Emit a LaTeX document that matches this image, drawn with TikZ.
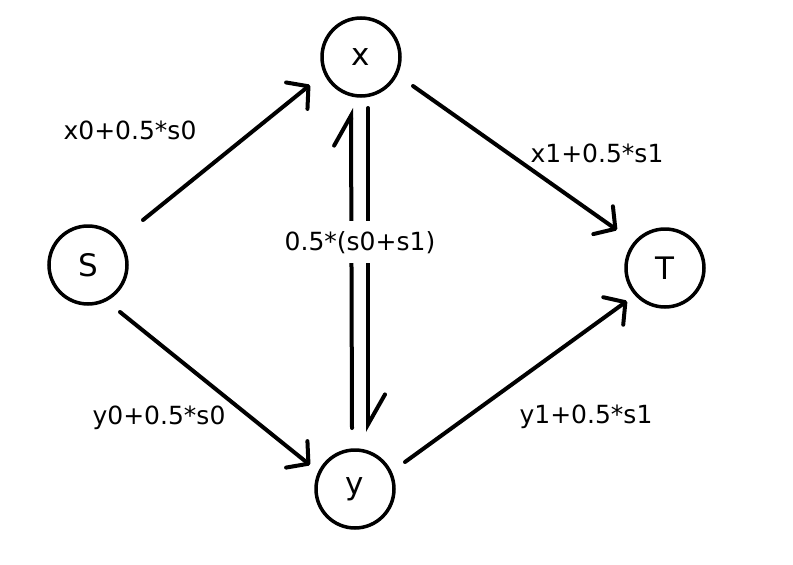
\documentclass[tikz,border=0pt]{standalone}
\usepackage{fontspec}
\setmainfont{DejaVu Sans}
\usetikzlibrary{arrows.meta,calc}
\begin{document}
\begin{tikzpicture}[x=1pt,y=-1pt,
  vert/.style={circle,draw,line width=3.5pt,minimum size=78pt,inner sep=0pt,font=\fontsize{31}{31}\selectfont},
  edge/.style={line width=4pt,line cap=round,-{Straight Barb[length=15pt,width=34pt,line cap=round,line join=round]}},
  harp/.style={line width=4pt,line cap=round,-{Straight Barb[left,length=30pt,width=34pt,line cap=round]}},
  lab/.style={font=\fontsize{25}{25}\selectfont,anchor=base,inner sep=0pt}]
\useasboundingbox[fill=white] (0,0) rectangle (793,565);
\node[vert] (S) at (88,265) {S};
\node[vert] (x) at (361,57) {x};
\node[vert] (T) at (665,268) {T};
\node[vert] (y) at (355,489) {y};
\draw[edge] ($(S)+(55,-45)$) -- ($(x)+(-51,28)$);
\draw[edge] ($(x)+(52,29)$) -- ($(T)+(-48,-38)$);
\draw[edge] ($(S)+(32,47)$) -- ($(y)+(-45,-24)$);
\draw[edge] ($(y)+(50,-27)$) -- ($(T)+(-38,33)$);
\draw[harp] ($(x)+(7,51)$) -- ($(y)+(13,-57)$);
\draw[harp] ($(y)+(-3,-61)$) -- ($(x)+(-10,51)$);
\node[lab] (l1) at (130,139) {x0+0.5*s0};
\node[lab] (l2) at (597,162) {x1+0.5*s1};
\node[lab] (l3) at (159,424) {y0+0.5*s0};
\node[lab] (l4) at (586,423) {y1+0.5*s1};
\node[lab,fill=white,inner xsep=2pt,inner ysep=10pt] (l5) at (360,250) {0.5*(s0+s1)};
\end{tikzpicture}
\end{document}
